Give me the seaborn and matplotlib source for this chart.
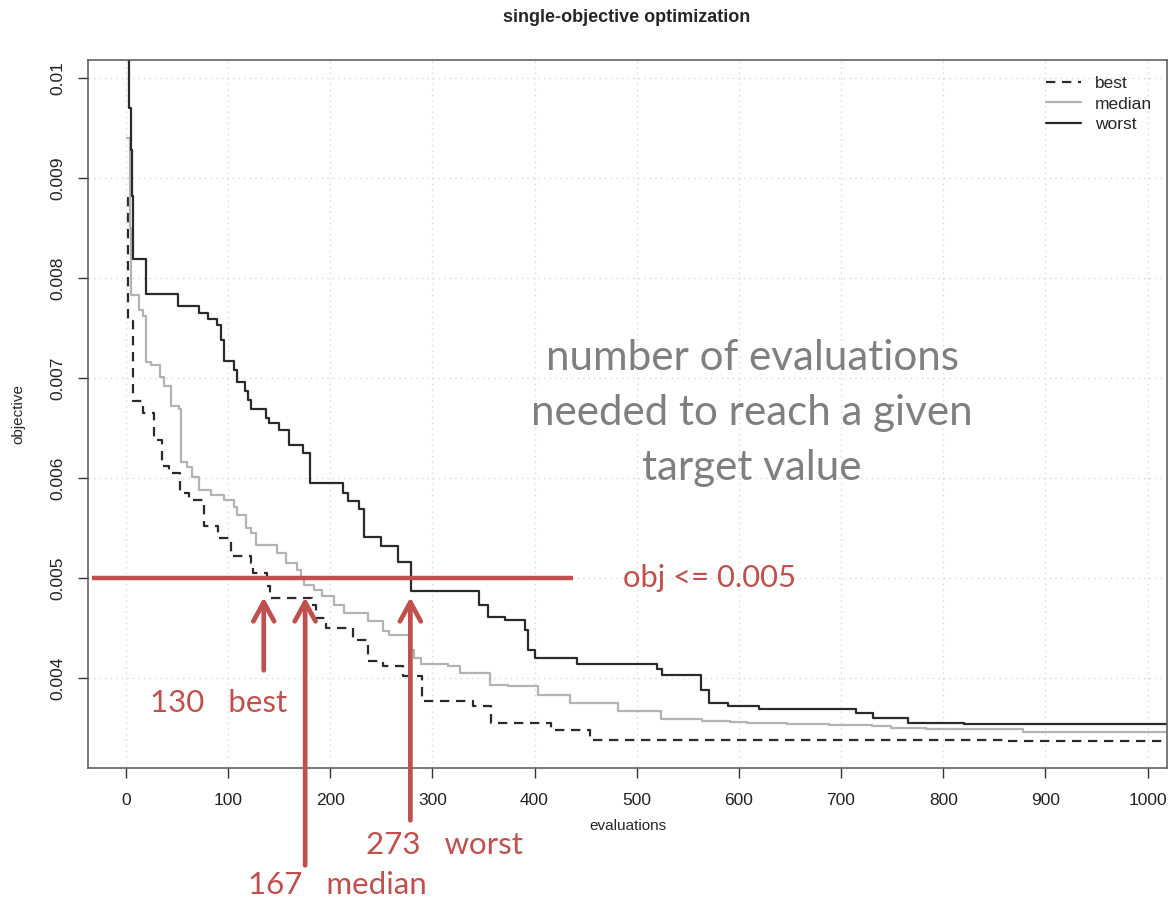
import matplotlib
matplotlib.use("Agg")
import matplotlib.pyplot as plt
import seaborn as sns
import pandas as pd

# ---------------- data ----------------
worst_x = [1, 3.4, 4.7, 5.7, 7.1, 19.6, 51.2, 71.6, 80.5, 88.8, 92.7, 96, 105.8, 108.9, 116.3,
           119.2, 122.2, 137.4, 139.8, 150.1, 159.5, 173.9, 180.4, 213, 217.1, 228.5, 233.4, 249.8,
           266.1, 278.7, 345.4, 354.3, 370.8, 391, 394.1, 400.4, 441.1, 519.6, 524.5, 563.3, 570.4,
           589.3, 619.4, 714.2, 731.3, 765.9, 820.6, 1030]
worst_y = [0.0110, 0.00970, 0.00928, 0.00882, 0.00819, 0.00784, 0.00772, 0.00765, 0.00759, 0.00753,
           0.00738, 0.00717, 0.00708, 0.00696, 0.00687, 0.00678, 0.00669, 0.00660, 0.00655, 0.00648,
           0.00633, 0.00625, 0.00595, 0.00585, 0.00577, 0.00569, 0.00541, 0.00532, 0.00516, 0.00487,
           0.00473, 0.00461, 0.00458, 0.00448, 0.00428, 0.00420, 0.00414, 0.00409, 0.00403, 0.00388,
           0.00375, 0.00372, 0.00369, 0.00365, 0.00360, 0.00355, 0.00354, 0.00354]

median_x = [1, 3.9, 5.0, 12.6, 16.5, 19.8, 25, 33.9, 37.8, 44.2, 51.8, 54.5, 60.1, 65, 71.4,
            82.9, 96, 105.8, 109.1, 117.3, 122.2, 127.1, 148.4, 156.5, 168, 171.2, 174.5, 184.3,
            192.5, 203.9, 213.7, 236.7, 251.4, 257.9, 277.5, 282.4, 289, 315.2, 326.6, 356, 374.1,
            403.5, 434.5, 482, 523.8, 563.8, 591.6, 607.9, 647.2, 688.1, 730.6, 748.6, 782.9, 877.8, 1030]
median_y = [0.0094, 0.00850, 0.00783, 0.00768, 0.00762, 0.00716, 0.00713, 0.00701, 0.00692, 0.00672,
            0.00669, 0.00616, 0.00611, 0.00601, 0.00588, 0.00583, 0.00578, 0.00571, 0.00563, 0.00550,
            0.00545, 0.00533, 0.00525, 0.00515, 0.00508, 0.00500, 0.00493, 0.00488, 0.00482, 0.00473,
            0.00465, 0.00457, 0.00447, 0.00443, 0.00428, 0.00420, 0.00414, 0.00412, 0.00405, 0.00393,
            0.00392, 0.00383, 0.00375, 0.00367, 0.00359, 0.00357, 0.00356, 0.00355, 0.00354, 0.00353,
            0.00352, 0.00350, 0.00349, 0.00346, 0.00346]

best_x = [1, 2, 7.1, 15.9, 17.2, 27.5, 35.5, 42, 53.5, 61.6, 76.1, 89.8, 102.6, 122.2, 124.1,
          138.6, 141.1, 182.7, 186, 195.8, 222, 236.7, 251.4, 270.8, 289.5, 339.7, 357.7, 416.6,
          454.2, 858.2, 1030]
best_y = [0.0088, 0.00757, 0.00677, 0.00673, 0.00665, 0.00638, 0.00612, 0.00605, 0.00585, 0.00578,
          0.00552, 0.00540, 0.00522, 0.00515, 0.00505, 0.00492, 0.00480, 0.00473, 0.00460, 0.00450,
          0.00438, 0.00417, 0.00412, 0.00402, 0.00377, 0.00372, 0.00355, 0.00348, 0.00338, 0.00337,
          0.00337]

x_ticks = [0, 100, 200, 300, 400, 500, 600, 700, 800, 900, 1000]
y_ticks = [0.004, 0.005, 0.006, 0.007, 0.008, 0.009, 0.010]
y_tick_labels = ["0.004", "0.005", "0.006", "0.007", "0.008", "0.009", "0.01"]

target = 0.005
target_span = [-33, 438]
hit_labels = ["130   best", "167   median", "273   worst"]
hit_x = [135, 175.5, 278.5]
arrow_tail_y = [0.00408, 0.00213, 0.00258]
label_pos_x = [24, 119.5, 235]
label_pos_y = [0.00375, 0.00193, 0.00233]

# ---------------- style ----------------
sns.set_style("white")
plt.rcParams["font.family"] = ["Liberation Sans", "DejaVu Sans"]

RED = "#C0504D"

fig = plt.figure(figsize=(11.7, 9.06), dpi=100)
ax = fig.add_axes([88 / 1170, 1 - 768 / 906, (1167 - 88) / 1170, (768 - 60) / 906])

series = [
    ("best", best_x, best_y, dict(color="#2a2a2a", linestyle=(0, (4.2, 3.0)))),
    ("median", median_x, median_y, dict(color="#b3b3b3")),
    ("worst", worst_x, worst_y, dict(color="#2a2a2a")),
]
for name, xs, ys, kw in series:
    df = pd.DataFrame({"evaluations": xs, "objective": ys})
    sns.lineplot(data=df, x="evaluations", y="objective", ax=ax, estimator=None, sort=False,
                 drawstyle="steps-post", lw=1.6, label=name, **kw)

ax.set_xlim(-37, 1019)
ax.set_ylim(0.003103, 0.010183)
ax.set_xticks(x_ticks)
ax.set_xticklabels([str(t) for t in x_ticks])
ax.set_yticks(y_ticks)
ax.set_yticklabels(y_tick_labels, rotation=90, va="center")
ax.grid(True, linestyle=(0, (1, 3)), color="#d8d8d8", lw=1)
ax.tick_params(axis="both", direction="out", length=7, width=1, color="#333333",
               labelsize=12.5, labelcolor="#222222", bottom=True, left=True)
ax.tick_params(axis="x", pad=11)
ax.tick_params(axis="y", pad=9)
for s in ax.spines.values():
    s.set_color("#555555")
    s.set_linewidth(1.1)
ax.set_xlabel("evaluations", fontsize=11, labelpad=8)
ax.set_ylabel("objective", fontsize=11, labelpad=18)

leg = ax.legend(loc="upper left", bbox_to_anchor=(1046 / 1170, 1 - 76 / 906),
                bbox_transform=fig.transFigure, frameon=False, fontsize=12.5,
                handlelength=2.0, handletextpad=0.8, labelspacing=0.3,
                borderpad=0, borderaxespad=0)

fig.text(627 / 1170, 1 - 17 / 906, "single-objective optimization", ha="center", va="center",
         fontsize=13, fontweight="bold", family=["Liberation Sans Narrow", "Liberation Sans"])

# ---------------- annotations ----------------
ax.plot(target_span, [target, target], color=RED, lw=3.2, solid_capstyle="butt", zorder=5)
ax.text(487, target, "obj <= 0.005", color=RED, fontsize=22.3, va="center", ha="left",
        family=["Lato", "DejaVu Sans"], zorder=6)

for lab, hx, ty, lx, ly in zip(hit_labels, hit_x, arrow_tail_y, label_pos_x, label_pos_y):
    ax.annotate("", xy=(hx, 0.00481), xytext=(hx, ty), xycoords="data", textcoords="data",
                annotation_clip=False, zorder=6,
                arrowprops=dict(arrowstyle="->,head_length=0.55,head_width=0.3", color=RED,
                                lw=3.4, shrinkA=0, shrinkB=0, mutation_scale=25))
    ax.text(lx, ly, lab, color=RED, fontsize=22.5, va="center", ha="left", clip_on=False,
            family=["Lato", "DejaVu Sans"], zorder=6)

ax.text(613, 0.00665, "number of evaluations\nneeded to reach a given\ntarget value",
        color="#7f7f7f", fontsize=30.3, ha="center", va="center", linespacing=1.55,
        family=["Lato", "DejaVu Sans"], zorder=6)

fig.savefig("out.png", dpi=100)
